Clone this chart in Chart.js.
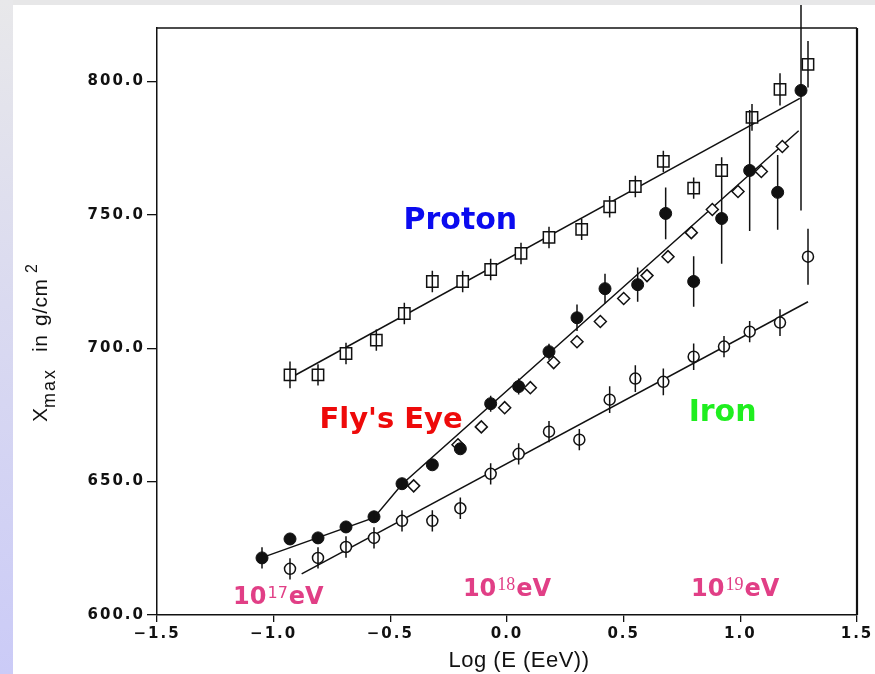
<!DOCTYPE html>
<html><head><meta charset="utf-8">
<script src="https://cdn.jsdelivr.net/npm/chart.js@4/dist/chart.umd.min.js"></script>
<style>
html,body{margin:0;padding:0;width:875px;height:674px;overflow:hidden;background:#e7e7e8;}
#strip{position:absolute;left:0;top:0;width:13px;height:674px;background:linear-gradient(to bottom,#e8e8ea 0%,#dadaf0 45%,#cbcbf7 100%);}
#wrap{position:absolute;left:13px;top:5px;width:862px;height:669px;background:#fff;}
canvas{display:block}
</style></head><body>
<div id="strip"></div>
<div id="wrap"><canvas id="c" width="862" height="669"></canvas></div>
<script>
// ---- tick values ----
const xTicks = [-1.5, -1.0, -0.5, 0.0, 0.5, 1.0, 1.5];
const yTicks = [600, 650, 700, 750, 800];

// ---- Proton (open squares) ----
const protonX   = [-0.93,-0.81,-0.69,-0.56,-0.44,-0.32,-0.19,-0.07,0.06,0.18,0.32,0.44,0.55,0.67,0.80,0.92,1.05,1.17,1.29];
const protonY   = [690,690,698,703,713,725,725,729.5,735.5,741.5,744.5,753,760.6,770,760,766.6,786.5,797,806.4];
const protonErr = [5,4,4,4,4,4,4,4,4,4,4,4,4,4,4,5,5,6,8.7];

// ---- Fly's Eye (filled circles) ----
const flyX   = [-1.05,-0.93,-0.81,-0.69,-0.57,-0.45,-0.32,-0.20,-0.07,0.05,0.18,0.30,0.42,0.56,0.68,0.80,0.92,1.04,1.16,1.26];
const flyY   = [621.4,628.5,628.9,633,636.8,649.2,656.3,662.3,679.2,685.6,698.7,711.4,722.3,723.8,750.5,725,748.6,766.6,758.4,796.6];
const flyErr = [4,2,2,2,2,2,2,2,3,3,3,5,5.6,6.4,9.7,9.5,17,22.7,14,45];

// ---- Fly's Eye simulation (open diamonds) ----
const diamondX = [-0.40,-0.21,-0.11,-0.01,0.10,0.20,0.30,0.40,0.50,0.60,0.69,0.79,0.88,0.99,1.09,1.18];
const diamondY = [648.4,663.8,670.5,677.7,685.2,694.6,702.4,710.0,718.6,727.2,734.3,743.3,752.0,758.7,766.2,775.6];

// ---- Iron (open circles) ----
const ironX   = [-0.93,-0.81,-0.69,-0.57,-0.45,-0.32,-0.20,-0.07,0.05,0.18,0.31,0.44,0.55,0.67,0.80,0.93,1.04,1.17,1.29];
const ironY   = [617.3,621.4,625.5,628.9,635.3,635.3,640,652.9,660.4,668.7,665.7,680.7,688.6,687.4,696.8,700.6,706.2,709.6,734.3];
const ironErr = [4,4,4,4,4,4,4,4,4,4,4,5,5,5,5,4,4,5,10.5];

// ---- fitted lines ----
const protonFitX = [-0.92, 1.255];
const protonFitY = [689.3, 793.6];
const flyFitX = [-1.05, -0.57, -0.45, 1.25];
const flyFitY = [621.5, 636.5, 649.0, 781.5];
const ironFitX = [-0.88, 1.29];
const ironFitY = [615.4, 717.4];

// ---- text ----
const seriesLabels = ["Proton", "Fly's Eye", "Iron"];
const energyLabels = [["10","17","eV"],["10","18","eV"],["10","19","eV"]];

const pts = (xs, ys) => xs.map((v, i) => ({x: v, y: ys[i]}));

const labelStyle = {
  series: [
    {at: [-0.20, 744.5], color: '#0b0bef', size: 30},
    {at: [-0.497, 670.2], color: '#ee0a0a', size: 29},
    {at: [0.924, 672.8], color: '#1fee1f', size: 30}
  ],
  energy: [
    {at: [-1.174, 604.1], supFont: '16px "DejaVu Sans"'},
    {at: [-0.189, 607.1], supFont: '18px "Liberation Serif"'},
    {at: [0.789, 607.1], supFont: '18px "Liberation Serif"'}
  ]
};

const overlay = {
  id: 'overlay',
  beforeDraw(chart) { chart.ctx.letterSpacing = '2px'; },
  afterDatasetsDraw(chart) {
    const {ctx, scales: {x, y}} = chart;
    ctx.save();
    ctx.letterSpacing = '0px';
    ctx.strokeStyle = '#111';
    ctx.lineWidth = 1.5;
    ctx.beginPath();
    const sets = [[protonX, protonY, protonErr], [flyX, flyY, flyErr], [ironX, ironY, ironErr]];
    for (const [xs, ys, es] of sets) {
      for (let i = 0; i < xs.length; i++) {
        const px = x.getPixelForValue(xs[i]);
        ctx.moveTo(px, y.getPixelForValue(ys[i] + es[i]));
        ctx.lineTo(px, y.getPixelForValue(ys[i] - es[i]));
      }
    }
    ctx.stroke();
    ctx.restore();
  },
  afterDraw(chart) {
    const {ctx, chartArea: a, scales: {x, y}} = chart;
    ctx.letterSpacing = '0px';
    ctx.save();
    // frame top & right
    ctx.strokeStyle = '#111';
    ctx.lineWidth = 1.5;
    ctx.beginPath();
    ctx.moveTo(a.left, a.top); ctx.lineTo(a.right, a.top);
    ctx.stroke();
    ctx.lineWidth = 2.2;
    ctx.beginPath();
    ctx.moveTo(a.right, a.top); ctx.lineTo(a.right, a.bottom);
    ctx.stroke();

    // series labels
    ctx.textAlign = 'center';
    ctx.textBaseline = 'alphabetic';
    seriesLabels.forEach((t, i) => {
      const s = labelStyle.series[i];
      ctx.font = 'bold ' + s.size + 'px "DejaVu Sans"';
      ctx.fillStyle = s.color;
      ctx.fillText(t, x.getPixelForValue(s.at[0]), y.getPixelForValue(s.at[1]));
    });

    // energy labels
    ctx.textAlign = 'left';
    ctx.fillStyle = '#e13f86';
    energyLabels.forEach((parts, i) => {
      const s = labelStyle.energy[i];
      let px = x.getPixelForValue(s.at[0]);
      const py = y.getPixelForValue(s.at[1]);
      ctx.font = 'bold 24px "DejaVu Sans"';
      ctx.fillText(parts[0], px, py);
      px += ctx.measureText(parts[0]).width + 1;
      ctx.font = s.supFont;
      ctx.fillText(parts[1], px, py - 6);
      px += ctx.measureText(parts[1]).width + 1;
      ctx.font = 'bold 24px "DejaVu Sans"';
      ctx.fillText(parts[2], px, py);
    });

    // x axis title
    ctx.fillStyle = '#111';
    ctx.font = '22px "Liberation Sans"';
    ctx.textAlign = 'center';
    ctx.letterSpacing = '0.5px';
    ctx.fillText('Log (E (EeV))', 506, 662);
    ctx.letterSpacing = '0px';

    // y axis title (rotated, with sub/superscript)
    ctx.translate(34, 417);
    ctx.rotate(-Math.PI / 2);
    ctx.textAlign = 'left';
    ctx.font = '21px "Liberation Sans"';
    ctx.fillText('X', 0, 0);
    ctx.font = '18px "Liberation Sans"';
    ctx.letterSpacing = '2px';
    ctx.fillText('max', 14, 8);
    ctx.letterSpacing = '0.5px';
    ctx.font = '21px "Liberation Sans"';
    ctx.fillText('in', 70, 0);
    ctx.fillText('g/cm', 96, 0);
    ctx.letterSpacing = '0px';
    ctx.font = '16px "Liberation Sans"';
    ctx.fillText('2', 149, -10);
    ctx.restore();
  }
};

const lineDs = (xs, ys) => ({
  type: 'scatter', data: pts(xs, ys), showLine: true, pointRadius: 0,
  borderColor: '#111', borderWidth: 1.5, fill: false, order: 10
});

new Chart(document.getElementById('c'), {
  type: 'scatter',
  data: {
    datasets: [
      lineDs(protonFitX, protonFitY),
      lineDs(flyFitX, flyFitY),
      lineDs(ironFitX, ironFitY),
      {label: 'Proton', data: pts(protonX, protonY), pointStyle: 'rect', pointRadius: 8,
       backgroundColor: '#fff', borderColor: '#111', borderWidth: 1.5, order: 1},
      {label: 'Iron', data: pts(ironX, ironY), pointStyle: 'circle', pointRadius: 5.5,
       backgroundColor: '#fff', borderColor: '#111', borderWidth: 1.5, order: 1},
      {label: 'Sim', data: pts(diamondX, diamondY), pointStyle: 'rectRot', pointRadius: 6,
       backgroundColor: '#fff', borderColor: '#111', borderWidth: 1.5, order: 2},
      {label: "Fly's Eye", data: pts(flyX, flyY), pointStyle: 'circle', pointRadius: 6,
       backgroundColor: '#111', borderColor: '#111', borderWidth: 1, order: 0}
    ]
  },
  options: {
    responsive: false,
    animation: false,
    events: [],
    layout: {padding: {top: 23, right: 18, left: 0, bottom: 0}},
    plugins: {legend: {display: false}, tooltip: {enabled: false}},
    scales: {
      x: {
        type: 'linear', min: -1.5, max: 1.5,
        afterBuildTicks: s => { s.ticks = xTicks.map(v => ({value: v})); },
        afterFit: s => { s.height = 59; },
        grid: {display: true, drawOnChartArea: false, drawTicks: true, tickLength: 7, color: '#111', lineWidth: 1.3},
        border: {display: true, color: '#111', width: 1.5},
        ticks: {
          color: '#111', padding: 3, maxRotation: 0,
          font: {family: 'DejaVu Sans', weight: 'bold', size: 15},
          callback: v => (v < 0 ? '\u2212' : '') + Math.abs(v).toFixed(1)
        }
      },
      y: {
        type: 'linear', min: 600, max: 820,
        afterBuildTicks: s => { s.ticks = yTicks.map(v => ({value: v})); },
        afterFit: s => { s.width = 144; },
        grid: {display: true, drawOnChartArea: false, drawTicks: true, tickLength: 10, color: '#111', lineWidth: 1.3},
        border: {display: true, color: '#111', width: 1.5},
        ticks: {
          color: '#111', padding: 2,
          font: {family: 'DejaVu Sans', weight: 'bold', size: 15},
          callback: v => v.toFixed(1)
        }
      }
    }
  },
  plugins: [overlay]
});
</script>
</body></html>
